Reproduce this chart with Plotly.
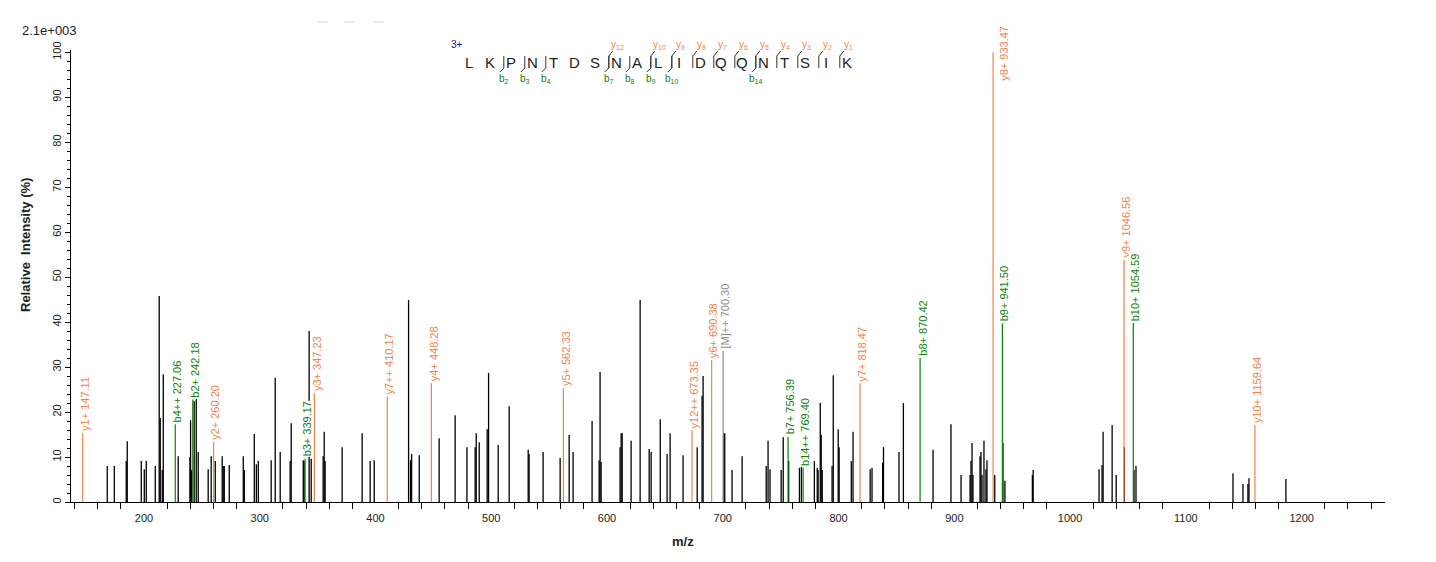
import plotly.graph_objects as go

# unassigned peaks (m/z, relative intensity %)
peak_mz = [168.3, 174.4, 184.7, 185.6, 197.7, 200.3, 202.0, 209.8, 213.2, 214.1,
           215.8, 216.7, 229.6, 239.7, 240.3, 241.2, 243.4, 245.2, 246.9, 255.5,
           258.1, 261.6, 267.6, 268.5, 269.4, 273.7, 285.8, 286.7, 295.3, 297.1,
           298.8, 309.9, 313.4, 317.7, 326.3, 327.2, 337.6, 338.4, 342.7, 344.5,
           354.8, 355.7, 356.5, 371.2, 388.5, 395.4, 398.9, 428.6, 430.3, 431.2,
           437.8, 455.0, 468.8, 479.0, 486.1, 487.0, 489.6, 496.5, 497.7, 506.0,
           515.5, 531.9, 532.7, 544.8, 559.5, 567.3, 570.7, 587.1, 593.2, 594.0,
           594.9, 611.3, 612.2, 613.1, 620.8, 628.6, 636.4, 638.1, 646.0, 651.9,
           654.5, 665.7, 677.9, 682.1, 683.0, 700.9, 701.7, 708.0, 716.7, 737.5,
           739.1, 740.8, 750.4, 752.2, 756.9, 766.2, 767.9, 779.1, 781.6, 782.3,
           784.2, 785.0, 785.9, 794.4, 795.4, 799.7, 800.5, 811.0, 812.5, 827.3,
           828.9, 838.1, 838.8, 852.2, 856.0, 881.6, 897.1, 905.8, 913.6, 914.4,
           915.3, 916.1, 922.2, 923.0, 923.9, 925.6, 927.3, 928.2, 934.9, 942.0,
           943.7, 967.4, 968.1, 1025.0, 1027.6, 1028.5, 1036.3, 1039.8, 1046.9, 1055.2,
           1056.9, 1140.7, 1149.3, 1153.6, 1154.5, 1186.4]
peak_int = [8.0, 8.0, 9.1, 13.5, 9.1, 7.3, 9.1, 8.0, 45.8, 18.7,
            7.1, 28.4, 10.2, 10.0, 18.2, 7.1, 22.4, 22.9, 11.1, 7.3,
            10.2, 9.1, 10.2, 8.0, 8.0, 8.2, 10.2, 7.1, 15.1, 8.4,
            9.1, 9.3, 27.6, 11.1, 9.1, 17.5, 9.3, 9.1, 38.0, 9.6,
            10.2, 15.6, 9.1, 12.2, 15.3, 9.1, 9.3, 44.9, 9.3, 10.7,
            10.4, 14.2, 19.3, 12.2, 12.2, 15.3, 13.3, 16.2, 28.7, 12.7,
            21.3, 11.6, 10.7, 11.1, 9.8, 14.9, 11.1, 18.0, 9.3, 28.9,
            8.9, 12.2, 15.3, 15.3, 13.6, 44.9, 11.8, 11.1, 18.4, 10.7,
            15.3, 10.4, 12.2, 23.6, 28.0, 15.3, 15.3, 7.1, 10.2, 8.0,
            13.6, 7.3, 7.1, 14.4, 9.1, 7.6, 7.8, 9.1, 7.6, 7.1,
            22.0, 14.9, 7.1, 8.0, 28.2, 16.2, 12.2, 9.1, 15.6, 7.3,
            7.6, 8.7, 12.2, 11.1, 22.0, 11.6, 17.3, 6.0, 6.0, 9.1,
            13.1, 6.0, 10.2, 11.1, 6.0, 13.6, 7.3, 9.3, 6.0, 13.1,
            4.7, 6.0, 7.1, 7.3, 8.2, 15.6, 17.1, 6.0, 12.2, 7.1,
            8.0, 6.4, 4.0, 4.0, 5.3, 5.1]

# assigned fragment ions
ion_name = ['y1+', 'b4++', 'b2+', 'y2+', 'b3+', 'y3+', 'y7++', 'y4+', 'y5+', 'y12++',
            'y6+', '[M]++', 'b7+', 'b14++', 'y7+', 'b8+', 'y8+', 'b9+', 'y9+', 'b10+',
            'y10+']
ion_mz = [147.11, 227.06, 242.18, 260.20, 339.17, 347.23, 410.17, 448.28, 562.33, 673.35,
          690.38, 700.30, 756.39, 769.40, 818.47, 870.42, 933.47, 941.50, 1046.56, 1054.59,
          1159.64]
ion_int = [15.3, 17.3, 22.8, 13.4, 9.6, 24.2, 23.4, 26.4, 25.3, 16.0,
           31.6, 33.6, 14.5, 7.6, 26.4, 32.0, 100.0, 39.7, 53.8, 39.8,
           17.1]

sequence = list('LKPNTDSNALIDQQNTSIK')
y_ions = [12, 10, 9, 8, 7, 6, 5, 4, 3, 2, 1]
b_ions = [2, 3, 4, 7, 8, 9, 10, 14]

Y_COL = '#F0824A'
B_COL = '#0A820A'
M_COL = '#8C8C8C'
FONT = 'Liberation Sans, Arial, sans-serif'

# the page puts the figure 8px in from the window corner
OFF = 8
W, H = 1436, 562
ML, MR, MT, MB = 71 - OFF, 51 + OFF, 50 - OFF, 60 + OFF
PW, PH = W - ML - MR, H - MT - MB


def px(x):
    # window pixel -> paper x
    return (x - OFF - ML) / PW


def py(y):
    # window pixel -> paper y
    return (H - MB - (y - OFF)) / PH


def ion_color(name):
    if name.startswith('y'):
        return Y_COL
    if name.startswith('b'):
        return B_COL
    return M_COL


def stick_xy(xs, ys):
    sx, sy = [], []
    for x, y in zip(xs, ys):
        sx += [x, x, None]
        sy += [0, y, None]
    return sx, sy


def paper_text(x, y, text, size, color, xanchor='center', angle=0):
    return dict(x=px(x), y=py(y), xref='paper', yref='paper', text=text,
                showarrow=False, xanchor=xanchor, yanchor='middle', textangle=angle,
                font=dict(family=FONT, size=size, color=color))


fig = go.Figure()

bx, by = stick_xy(peak_mz, peak_int)
fig.add_trace(go.Scatter(x=bx, y=by, mode='lines',
                         line=dict(color='black', width=1.3),
                         hoverinfo='skip', showlegend=False))

for col in (Y_COL, B_COL, M_COL):
    sel = [i for i, n in enumerate(ion_name) if ion_color(n) == col]
    cx, cy = stick_xy([ion_mz[i] for i in sel], [ion_int[i] for i in sel])
    fig.add_trace(go.Scatter(x=cx, y=cy, mode='lines',
                             line=dict(color=col, width=1.2),
                             hoverinfo='skip', showlegend=False))

annotations = []
for n, mz, it in zip(ion_name, ion_mz, ion_int):
    a = dict(x=mz, y=it, text='%s %.2f' % (n, mz), textangle=-90,
             showarrow=False, xref='x', yref='y', borderpad=0,
             bgcolor='white', font=dict(family=FONT, size=11, color=ion_color(n)))
    if it > 90:
        # top peak: label sits beside the line
        a.update(xanchor='left', yanchor='top', xshift=4, yshift=27)
    else:
        a.update(xanchor='center', yanchor='bottom', xshift=2, yshift=1)
    annotations.append(a)

# peptide sequence header
shapes = []
seq_x0, seq_dx, seq_y = 469.3, 21.0, 62
for i, aa in enumerate(sequence):
    annotations.append(paper_text(seq_x0 + i * seq_dx, seq_y, aa, 15, '#222222'))
annotations.append(paper_text(457, 45, '3+', 10, '#1010C8'))

for k in y_ions:
    i = len(sequence) - k
    lx = seq_x0 + i * seq_dx - 7.5
    shapes.append(dict(type='path', xref='paper', yref='paper',
                       path='M %f %f L %f %f L %f %f' % (px(lx), py(68), px(lx), py(56),
                                                         px(lx + 4), py(51)),
                       line=dict(color='#333333', width=1)))
    annotations.append(paper_text(lx + 9, 45, 'y<sub>%d</sub>' % k, 10, Y_COL))

for k in b_ions:
    lx = seq_x0 + k * seq_dx - 7.5
    shapes.append(dict(type='path', xref='paper', yref='paper',
                       path='M %f %f L %f %f L %f %f' % (px(lx), py(56), px(lx), py(68),
                                                         px(lx - 4), py(72)),
                       line=dict(color='#333333', width=1)))
    annotations.append(paper_text(lx, 79, 'b<sub>%d</sub>' % k, 10, B_COL))

annotations.append(paper_text(20, 31, '2.1e+003', 13, '#222222', xanchor='left'))

# axis titles (placed off-centre, as in the original)
annotations.append(paper_text(683, 541, '<b>m/z</b>', 13, '#222222'))
annotations.append(paper_text(26, 245, '<b>Relative  Intensity (%)</b>', 13, '#222222', angle=-90))

for dx in (322, 350, 378):
    shapes.append(dict(type='line', xref='paper', yref='paper',
                       x0=px(dx - 5), x1=px(dx + 5), y0=py(22), y1=py(22),
                       line=dict(color='#D8D8D8', width=1)))

fig.update_layout(
    width=W, height=H,
    margin=dict(l=ML, r=MR, t=MT, b=MB),
    plot_bgcolor='white', paper_bgcolor='white',
    font=dict(family=FONT, size=11, color='#222222'),
    annotations=annotations, shapes=shapes,
    showlegend=False,
)
fig.update_xaxes(range=[137, 1272], showgrid=False, zeroline=False,
                 showline=True, linecolor='black', linewidth=1,
                 dtick=100, ticks='', tickfont=dict(size=11), ticklabelstandoff=6,
                 minor=dict(dtick=20, ticks='outside', ticklen=6, tickcolor='black'))
fig.update_yaxes(range=[0, 100.5], showgrid=False, zeroline=False,
                 showline=True, linecolor='black', linewidth=1,
                 dtick=10, ticks='outside', ticklen=5, tickcolor='black',
                 tickangle=-90, tickfont=dict(size=11),
                 minor=dict(dtick=2, ticks='outside', ticklen=3, tickcolor='black'))

fig.write_html('out.html')
